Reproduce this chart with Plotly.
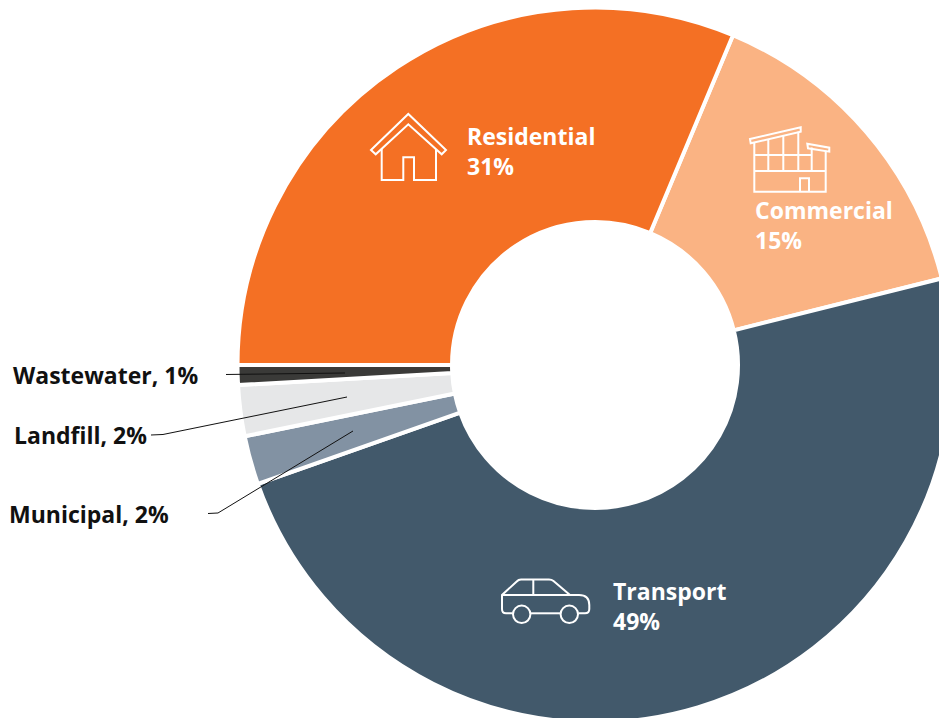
import re
import plotly.graph_objects as go

# Data
categories = ["Commercial", "Transport", "Municipal", "Landfill", "Wastewater", "Residential"]
values = [14.8, 48.5, 2.2, 2.3, 0.9, 31.3]
percent_labels = ["15%", "49%", "2%", "2%", "1%", "31%"]
colors = ["#FAB383", "#42596B", "#8292A3", "#E6E7E8", "#3A3A38", "#F47024"]

W, H = 960, 740
CX, CY, R = 595, 365, 357.5
HOLE = 0.400
FONT = "Open Sans"


def fx(x):
    return x / W


def fy(y):
    return 1 - y / H


def path_px(d):
    toks = re.findall(r"[MLQCZ]|-?\d+\.?\d*", d)
    out, i = [], 0
    for t in toks:
        if t.isalpha():
            out.append(t)
        else:
            out.append(f"{(fx(float(t)) if i % 2 == 0 else fy(float(t))):.5f}")
            i += 1
    return " ".join(out)


fig = go.Figure(
    go.Pie(
        labels=categories,
        values=values,
        sort=False,
        direction="clockwise",
        rotation=22.7,
        hole=HOLE,
        textinfo="none",
        showlegend=False,
        marker=dict(colors=colors, line=dict(color="white", width=4)),
        domain=dict(x=[fx(CX - R), fx(CX + R)], y=[fy(CY + R), fy(CY - R)]),
    )
)

WHITE = dict(color="white", width=2)
BLACK = dict(color="#111111", width=1)
icon_paths = [
    # house
    "M 371 150 L 408.3 114 L 446 150 L 441.7 154.3 L 408.3 124.3 L 375.7 154.3 Z",
    "M 381.7 149 L 381.7 180 L 403.3 180 L 403.3 157.3 L 414 157.3 L 414 180 L 436 180 L 436 149",
    # commercial building
    "M 750 139 L 800.7 127.3 L 800.7 131.7 L 750.7 143.3 Z",
    "M 807.3 143.7 L 829.3 147.7 L 829.3 151.7 L 808 148.3 Z",
    "M 754.3 142.3 L 754.3 191.7 L 825.7 191.7 L 825.7 150.7",
    "M 768.3 139.3 L 768.3 171",
    "M 783.3 136 L 783.3 171",
    "M 798.3 131.7 L 798.3 171",
    "M 811.7 147.5 L 811.7 171",
    "M 754.3 155 L 811.7 155",
    "M 754.3 171 L 825.7 171",
    "M 800 191.7 L 800 178.3 L 809 178.3 L 809 191.7",
    # car
    "M 512.7 613.3 L 506 613.3 Q 502 613.3 502 609 L 502 595 L 516.7 581.5 Q 518.5 579.5 521 579.5 "
    "L 549 579.5 Q 551.7 579.5 553.5 581 L 570 595 L 579 595 Q 589.3 595 589.3 605 L 589.3 609 "
    "Q 589.3 613.3 585 613.3 L 578.3 613.3",
    "M 502 595 L 570 595",
    "M 533.3 579.5 L 533.3 595",
    "M 530.7 613.3 L 560.7 613.3",
]
shapes = [
    dict(type="path", xref="paper", yref="paper", path=path_px(p), line=WHITE, layer="above")
    for p in icon_paths
]
for wx in (521.7, 569.3):
    shapes.append(
        dict(type="circle", xref="paper", yref="paper", x0=fx(wx - 8.7), x1=fx(wx + 8.7),
             y0=fy(614.3 + 8.7), y1=fy(614.3 - 8.7), line=WHITE, layer="above")
    )
leaders = [
    "M 226 374.5 L 345 373",
    "M 151 435 L 163 434.5 L 347 397",
    "M 208 513.5 L 218 513 L 353 431",
]
shapes += [
    dict(type="path", xref="paper", yref="paper", path=path_px(p), line=BLACK, layer="above")
    for p in leaders
]


def text(x, y, s, color, size=23):
    return dict(
        xref="paper", yref="paper", x=fx(x), y=fy(y), text=f"<b>{s}</b>", showarrow=False,
        xanchor="left", yanchor="middle", xshift=-2, align="left",
        font=dict(family=FONT, size=size, color=color),
    )


annotations = [
    text(467, 136, categories[5], "white"),
    text(467, 166, percent_labels[5], "white"),
    text(755, 210, categories[0], "white"),
    text(755, 240, percent_labels[0], "white"),
    text(613, 591, categories[1], "white"),
    text(613, 621, percent_labels[1], "white"),
    text(13, 375, f"{categories[4]}, {percent_labels[4]}", "#111111"),
    text(14, 435, f"{categories[3]}, {percent_labels[3]}", "#111111"),
    text(9, 514, f"{categories[2]}, {percent_labels[2]}", "#111111"),
]

fig.update_layout(
    width=W, height=H, margin=dict(l=0, r=0, t=0, b=0), autosize=False,
    paper_bgcolor="white", plot_bgcolor="white",
    shapes=shapes, annotations=annotations,
)

fig.write_html(
    "out.html",
    config={"displayModeBar": False},
    post_script="document.body.style.margin='0';document.documentElement.style.overflow='hidden';document.body.style.overflow='hidden';",
)
